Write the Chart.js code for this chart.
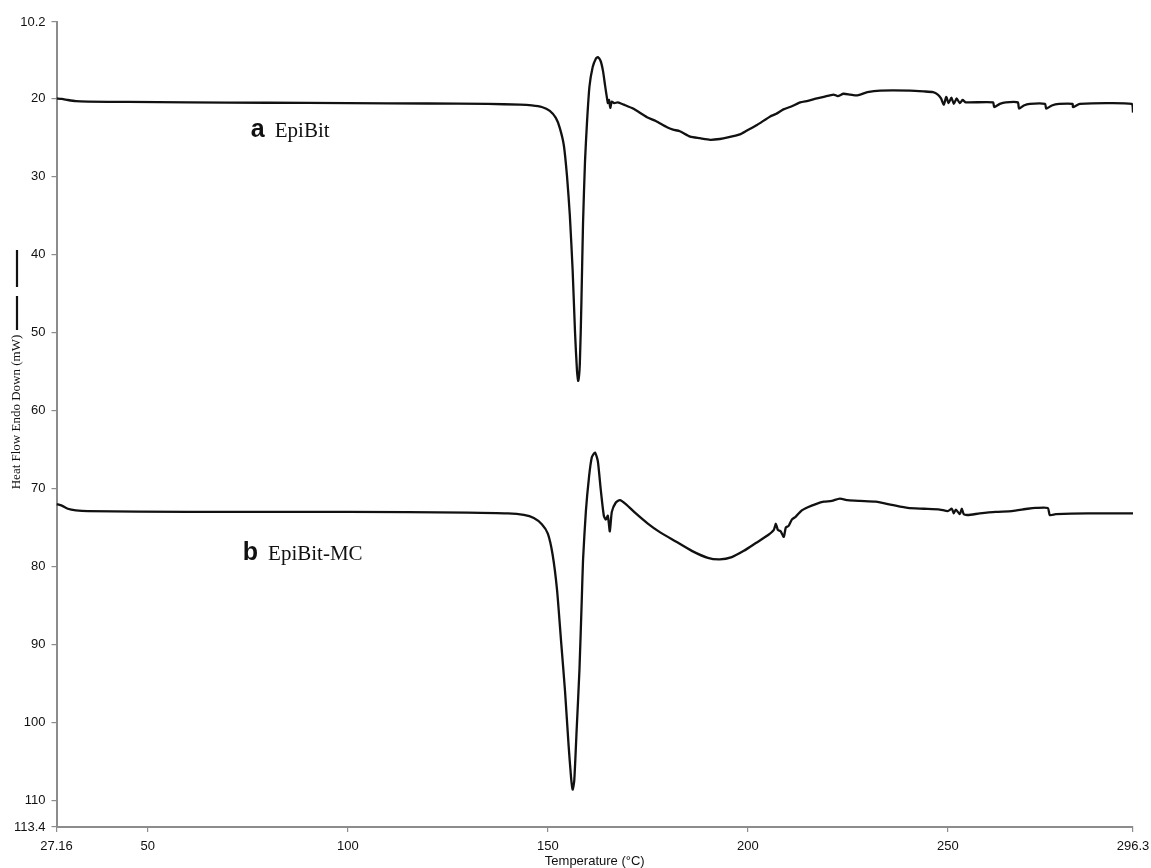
<!DOCTYPE html>
<html>
<head>
<meta charset="utf-8">
<script src="https://cdn.jsdelivr.net/npm/chart.js@4"></script>
<style>
  html, body { margin: 0; padding: 0; background: #fff; }
  #wrap { width: 1151px; height: 868px; }
</style>
</head>
<body>
<div id="wrap"><canvas id="dsc"></canvas></div>
<script>
// EpiBit (curve a)
const tempA = [27.16, 28.5, 30, 32, 35, 45, 60, 80, 100, 120, 135, 143, 146, 148.5, 150.5, 152, 153, 154, 154.8, 155.5,
  156.2, 156.8, 157.3, 157.6, 158.0, 158.4, 158.8, 159.3, 159.8, 160.4, 161.2, 162.0, 162.5, 163.2, 163.8, 164.3, 164.8,
  165.0, 165.3, 165.6, 166.0, 166.6, 167.5, 169, 171.3, 174.8, 177, 179.8, 181.3, 183, 185.6, 188, 190.6, 193, 195, 198,
  199.8, 202.3, 205.6, 207, 208.9, 211, 213.1, 215, 217.3, 219, 221.4, 222.5, 223.9, 225.6, 227.4, 229.9, 233.1, 240.6,
  244, 246.3, 247.5, 248.3, 249, 249.6, 250.2, 250.9, 251.5, 252.2, 253, 253.7, 254.5, 261.3, 261.6, 263, 264.5, 267.5,
  267.8, 269, 270.5, 274.3, 274.6, 276, 277.8, 281.2, 281.3, 283, 296.0, 296.3];
const flowA = [20.0, 20.05, 20.2, 20.35, 20.4, 20.45, 20.5, 20.55, 20.6, 20.65, 20.7, 20.8, 20.9, 21.1, 21.6, 22.5, 23.8, 26.0, 30.0, 35.0,
  42.0, 50.0, 55.0, 56.2, 54.0, 46.0, 36.0, 28.0, 23.0, 18.5, 16.0, 14.9, 14.7, 15.2, 16.5, 18.3, 20.0,
  20.6, 20.2, 21.2, 20.4, 20.6, 20.5, 20.8, 21.3, 22.4, 22.9, 23.7, 24.0, 24.2, 24.9, 25.1, 25.3, 25.2, 25.0, 24.6,
  24.1, 23.4, 22.3, 22.0, 21.4, 21.0, 20.5, 20.3, 20.0, 19.8, 19.5, 19.7, 19.4, 19.5, 19.6, 19.2, 19.0, 19.0,
  19.1, 19.2, 19.5, 20.0, 20.8, 19.8, 20.6, 19.9, 20.7, 20.0, 20.6, 20.2, 20.5, 20.5, 21.1, 20.7, 20.5, 20.5,
  21.3, 20.9, 20.7, 20.7, 21.3, 20.9, 20.7, 20.7, 21.1, 20.7, 20.7, 21.8];

// EpiBit-MC (curve b)
const tempB = [27.16, 28.5, 30, 32, 35, 60, 100, 130, 140, 144, 146.5, 148.5, 150, 151.2, 152.3, 153.3, 154.3, 155.2, 155.8, 156.2,
  156.6, 157.2, 157.9, 158.5, 158.8, 159.5, 160.3, 161.0, 161.8, 162.5, 163.2, 164.0, 164.5, 165.0, 165.5, 166.0, 167.0,
  168.0, 169.5, 172, 175, 178, 182, 186, 190, 193, 196, 199, 202, 205, 206.5, 207, 207.5, 208.2, 209, 209.5, 210.2, 211,
  212, 213.5, 215, 217, 219, 221, 223, 225, 228, 232, 236, 240, 244, 248, 250, 251, 251.5, 252, 253, 253.5, 254, 255,
  258, 262, 266, 270, 272, 275, 275.5, 277, 285, 296.3];
const flowB = [72.0, 72.2, 72.6, 72.8, 72.9, 73.0, 73.0, 73.1, 73.2, 73.4, 73.8, 74.6, 75.8, 78.5, 83.0, 89.5, 96.0, 103.0, 107.0, 108.6,
  107.5, 101.0, 93.3, 84.0, 79.2, 73.0, 68.5, 66.0, 65.4, 66.5, 70.0, 73.5, 74.0, 73.5, 75.5, 73.0, 71.8,
  71.5, 72.0, 73.2, 74.5, 75.6, 76.8, 78.0, 78.9, 79.1, 78.8, 78.0, 77.0, 76.0, 75.3, 74.5, 75.3, 75.5, 76.2, 75.0, 74.8, 74.0,
  73.6, 72.8, 72.4, 72.0, 71.7, 71.6, 71.3, 71.5, 71.6, 71.7, 72.1, 72.5, 72.6, 72.7, 72.9, 72.6, 73.2, 72.7, 73.3, 72.6, 73.3, 73.4,
  73.2, 73.0, 72.9, 72.6, 72.5, 72.5, 73.4, 73.3, 73.2, 73.2];

const xTicks = [27.16, 50, 100, 150, 200, 250, 296.3];
const yTicks = [10.2, 20, 30, 40, 50, 60, 70, 80, 90, 100, 110, 113.4];
const curveLabels = [
  { tag: "a", name: "EpiBit", at: [77.5, 24.1] },
  { tag: "b", name: "EpiBit-MC", at: [75.5, 78.3] },
];

const toPoints = (xs, ys) => xs.map((x, i) => ({ x, y: ys[i] }));

const AXIS_GREY = "#8c8c8c";
const SANS = "'Liberation Sans', Arial, sans-serif";
const SERIF = "'Liberation Serif', 'Times New Roman', serif";

// curve tags ("a EpiBit") and the rotated y title with its two strokes
const decorations = {
  id: "decorations",
  afterDatasetsDraw(chart) {
    const { ctx, scales } = chart;
    ctx.save();
    ctx.fillStyle = "#111";
    ctx.textBaseline = "middle";
    curveLabels.forEach(({ tag, name, at }) => {
      const px = scales.x.getPixelForValue(at[0]);
      const py = scales.y.getPixelForValue(at[1]);
      ctx.font = `bold 25px ${SANS}`;
      ctx.fillText(tag, px - 7, py);
      const w = ctx.measureText(tag).width;
      ctx.font = `21px ${SERIF}`;
      ctx.fillText(name, px - 7 + w + 10, py + 1);
    });

    ctx.translate(17, 412);
    ctx.rotate(-Math.PI / 2);
    ctx.font = `13px ${SERIF}`;
    ctx.textAlign = "center";
    ctx.fillText("Heat Flow Endo Down (mW)", 0, 0);
    ctx.strokeStyle = "#111";
    ctx.lineWidth = 2.2;
    ctx.beginPath();
    ctx.moveTo(82, 0); ctx.lineTo(116, 0);
    ctx.moveTo(125, 0); ctx.lineTo(162, 0);
    ctx.stroke();
    ctx.restore();
  },
};

const lineStyle = {
  borderColor: "#111",
  borderWidth: 2.3,
  pointRadius: 0,
  fill: false,
  tension: 0.2,
};

new Chart(document.getElementById("dsc"), {
  type: "scatter",
  data: {
    datasets: [
      { label: "EpiBit", data: toPoints(tempA, flowA), showLine: true, ...lineStyle },
      { label: "EpiBit-MC", data: toPoints(tempB, flowB), showLine: true, ...lineStyle },
    ],
  },
  options: {
    responsive: true,
    maintainAspectRatio: false,
    animation: false,
    layout: { padding: { top: 22, right: 0, left: 0, bottom: 0 } },
    plugins: {
      legend: { display: false },
      tooltip: { enabled: false },
    },
    scales: {
      x: {
        type: "linear",
        min: xTicks[0],
        max: xTicks[xTicks.length - 1],
        afterBuildTicks: (axis) => { axis.ticks = xTicks.map((value) => ({ value })); },
        afterFit: (axis) => {
          axis.height = 41;
          axis.paddingRight = 18;
          axis.paddingLeft = 0;
        },
        ticks: {
          color: "#111",
          font: { family: SANS, size: 13 },
          padding: 7,
          maxRotation: 0,
          autoSkip: false,
          callback: (v) => String(v),
        },
        grid: { drawOnChartArea: false, color: AXIS_GREY, tickLength: 5, lineWidth: 1.2 },
        border: { color: AXIS_GREY, width: 2 },
        title: {
          display: true,
          text: "Temperature (°C)",
          color: "#111",
          font: { family: SANS, size: 13 },
          padding: { top: 0, bottom: -1 },
        },
      },
      y: {
        type: "linear",
        reverse: true,
        min: yTicks[0],
        max: yTicks[yTicks.length - 1],
        afterBuildTicks: (axis) => { axis.ticks = yTicks.map((value) => ({ value })); },
        afterFit: (axis) => { axis.width = 56.5; },
        ticks: {
          color: "#111",
          font: { family: SANS, size: 13 },
          padding: 6,
          autoSkip: false,
          callback: (v) => String(v),
        },
        grid: { drawOnChartArea: false, color: AXIS_GREY, tickLength: 5, lineWidth: 1.2 },
        border: { color: AXIS_GREY, width: 2 },
      },
    },
  },
  plugins: [decorations],
});
</script>
</body>
</html>
